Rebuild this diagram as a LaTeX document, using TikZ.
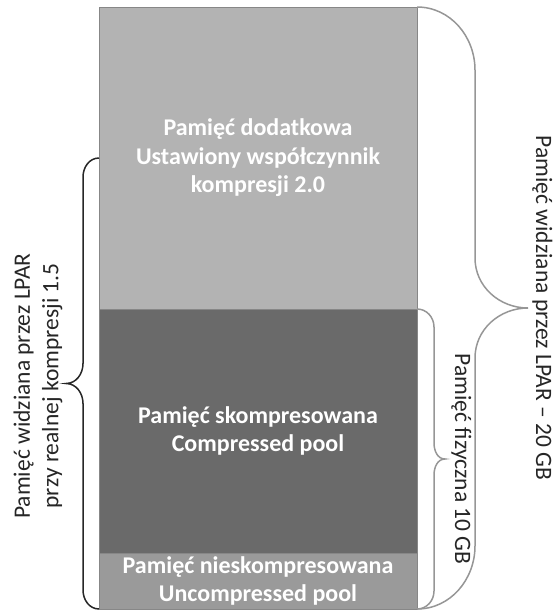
\documentclass[tikz,border=0pt]{standalone}
\usepackage{fontspec}
\setmainfont{Carlito}
\usetikzlibrary{positioning}
\definecolor{extragray}{RGB}{179,179,179}
\definecolor{comprgray}{RGB}{106,106,106}
\definecolor{uncomprgray}{RGB}{154,154,154}
\definecolor{edgegray}{RGB}{135,135,135}
\definecolor{bracegray}{RGB}{150,150,150}
\definecolor{sidegray}{RGB}{38,38,38}

\begin{document}
\begin{tikzpicture}[x=1pt,y=1pt,
	pool/.style={draw=edgegray,line width=0.8pt,minimum width=318pt,inner sep=0pt,outer sep=0pt,
		text=white,align=center,font=\fontsize{24}{28.5}\selectfont\bfseries},
	sidetext/.style={text=sidegray,align=center,inner sep=0pt,font=\fontsize{23.5}{28.5}\selectfont},
	lparbrace/.style={draw=bracegray,line width=1.5pt},
	realbrace/.style={draw=sidegray,line width=1.5pt}]
	\useasboundingbox (0,0) rectangle (555,-614);
	\node[pool,fill=extragray,minimum height=302pt] (extra) at (258,-158) {Pamięć dodatkowa\\Ustawiony współczynnik\\kompresji 2.0};
	\node[pool,fill=comprgray,minimum height=244pt,below=0pt of extra] (compr) {Pamięć skompresowana\\Compressed pool};
	\node[pool,fill=uncomprgray,minimum height=56pt,below=0pt of compr] (uncompr) {Pamięć nieskompresowana\\Uncompressed pool};
	\draw[lparbrace] (extra.north east) to[out=0,in=90] ++(58,-63) -- ++(0,-188)
		to[out=-90,in=180] ++(53,-50) to[out=180,in=90] ++(-53,-50) -- ++(0,-188)
		to[out=-90,in=0] (uncompr.south east);
	\draw[lparbrace] (compr.north east) to[out=0,in=90] ++(17,-18) -- ++(0,-116)
		to[out=-90,in=180] ++(11,-16) to[out=180,in=90] ++(-11,-16) -- ++(0,-116)
		to[out=-90,in=0] (uncompr.south east);
	\draw[realbrace] ([yshift=-151pt]extra.north west) to[out=180,in=90] ++(-16,-19) -- ++(0,-186.5)
		to[out=-90,in=0] ++(-17,-20) to[out=0,in=90] ++(17,-20) -- ++(0,-186.5)
		to[out=-90,in=180] (uncompr.south west);
	\node[sidetext,rotate=90] (seen) at (38,-386) {Pamięć widziana przez LPAR\\przy realnej kompresji 1.5};
	\node[sidetext,rotate=-90,anchor=base] (total) at (536,-308) {Pamięć widziana przez LPAR – 20 GB};
	\node[sidetext,rotate=-90,anchor=base] (phys) at (455,-459) {Pamięć fizyczna 10 GB};
\end{tikzpicture}
\end{document}
